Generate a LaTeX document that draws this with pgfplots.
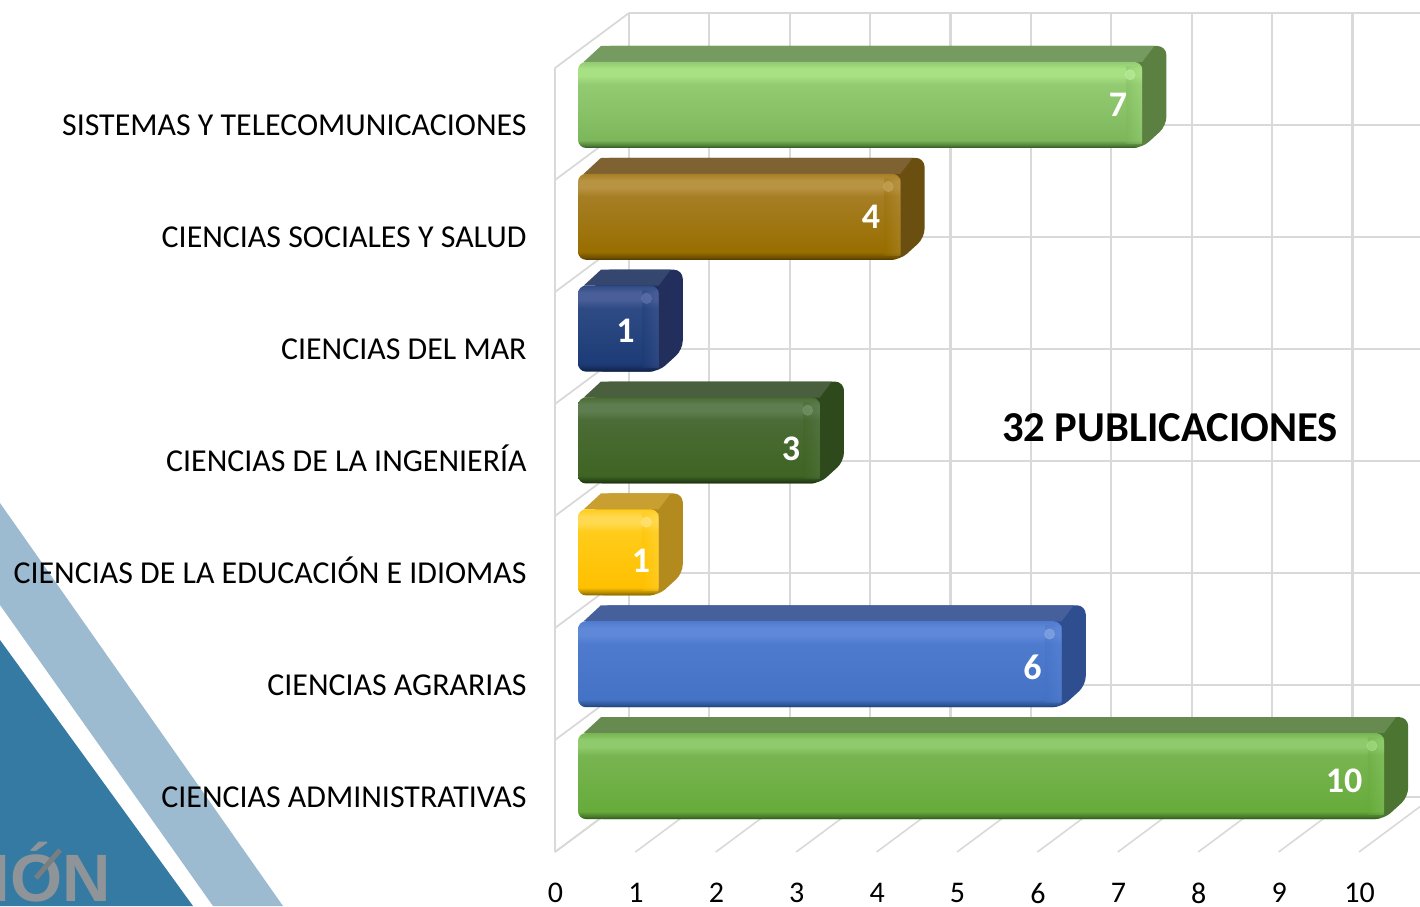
\documentclass[border=0pt]{standalone}
\usepackage{fontspec}
\setmainfont{Carlito}
\usepackage{pgfplots}
\pgfplotsset{compat=1.18}
\newfontfamily\logofont{Liberation Sans}
\definecolor{gridc}{HTML}{D9D9D9}
\definecolor{bandc}{HTML}{9CBAD0}
\definecolor{darkc}{HTML}{357AA3}
\definecolor{logoc}{HTML}{8E9498}
% name, band, upper body, lower body, dark, edge, top face, side, spot
\newcommand\defbar[9]{%
 \definecolor{#1band}{HTML}{#2}\definecolor{#1top}{HTML}{#3}\definecolor{#1low}{HTML}{#4}%
 \definecolor{#1dark}{HTML}{#5}\definecolor{#1edge}{HTML}{#6}\definecolor{#1tf}{HTML}{#7}%
 \definecolor{#1side}{HTML}{#8}\definecolor{#1spot}{HTML}{#9}%
 \pgfdeclareverticalshading{bar#1}{100bp}{color(0bp)=(#1edge);color(25bp)=(#1edge);color(26.5bp)=(#1dark);color(29.5bp)=(#1low);color(62bp)=(#1top);color(67bp)=(#1band);color(71bp)=(#1band);color(75bp)=(#1top);color(100bp)=(#1top)}%
}
\defbar{S}{A8E084}{93CB72}{7DB75B}{4F7F38}{2F5220}{759B60}{5C8042}{BFF0A0}
\defbar{R}{B89342}{A67E24}{986E00}{705000}{4E3800}{7E6232}{6B4F10}{C8A860}
\defbar{M}{4A5F99}{2E4B85}{1D3B76}{142B58}{0E1E40}{35466F}{222F5C}{6678B0}
\defbar{I}{5E7D50}{4B6C36}{3F6423}{274315}{18280C}{4A5F3D}{2E4A1C}{7A9A6C}
\defbar{E}{FFDA50}{FFCC1A}{FFC000}{B08600}{7F6000}{C89F30}{B38A1E}{FFE88A}
\defbar{A}{6088D8}{4F7BCF}{4472C4}{2C5596}{1F3D70}{46609C}{2F4E8F}{8FAEE8}
\defbar{D}{8FCB6C}{78B551}{67AB3B}{477A2A}{2E5218}{668A50}{4B7530}{A8E088}
% row, value, colour name
\newcommand\threedbar[3]{%
 \pgfmathsetmacro\yb{#1-0.384}\pgfmathsetmacro\yt{#1+0.384}%
 \pgfmathsetmacro\ybb{#1-0.384+0.197}\pgfmathsetmacro\ytb{#1+0.384+0.143}%
 \pgfmathsetmacro\xb{#2+0.3}\pgfmathsetmacro\xtb{#2+0.15}\pgfmathsetmacro\xs{#2-0.2}%
 \pgfmathsetmacro\xsp{#2-0.15}\pgfmathsetmacro\ysp{#1+0.27}%
 \addplot[draw=none,fill=#3side,rounded corners=4.5pt] coordinates {(0.2,\yb)(#2,\yb)(\xb,\ybb)(\xb,\ytb)(0.285,\ytb)(0.2,\yt)} -- cycle;
 \addplot[draw=none,fill=#3tf] coordinates {(0.07,\yt)(#2,\yt)(\xtb,\ytb)(0.285,\ytb)} -- cycle;
 \addplot[xbar,bar width=43pt,bar shift=0pt,draw=none,shade,shading=bar#3,rounded corners=4pt] coordinates {(#2,#1)};
 \addplot[draw=none,left color=#3low!100,right color=#3band,fill opacity=0.35] coordinates {(\xs,\yb+0.04)(#2,\yb+0.04)(#2,\yt-0.04)(\xs,\yt-0.04)} -- cycle;
 \addplot[only marks,mark=*,mark size=2.5pt,color=#3spot,opacity=0.6] coordinates {(\xsp,\ysp)};
}
\begin{document}
\begin{tikzpicture}
\useasboundingbox (0,0) rectangle (710pt,453pt);
\clip (0,0) rectangle (710pt,453pt);
% logo, in pixels of the reference halved
\fill[bandc] (0,201.5pt) -- (141.5pt,0) -- (106.5pt,0) -- (0,150.5pt) -- cycle;
\fill[darkc] (0,133pt) -- (96.5pt,0) -- (0,0) -- cycle;
\node[anchor=base east,inner sep=0pt,text=logoc,font=\logofont\bfseries\fontsize{33.5}{34}\selectfont] at (55.5pt,2.5pt) {IÓN};
\draw[logoc!85!black,line width=2.5pt] (18pt,14pt) -- (30pt,28pt);
% walls, floor and tick labels
\begin{axis}[at={(277.5pt,27pt)},anchor=south west,scale only axis,width=402pt,height=392pt,
 xmin=0,xmax=10,ymin=-0.5,ymax=6.5,clip=false,
 axis line style={draw=none},major tick length=0pt,
 xtick={0,...,10},ytick={0,...,6},
 yticklabels={CIENCIAS ADMINISTRATIVAS,CIENCIAS AGRARIAS,CIENCIAS DE LA EDUCACIÓN E IDIOMAS,CIENCIAS DE LA INGENIERÍA,CIENCIAS DEL MAR,CIENCIAS SOCIALES Y SALUD,SISTEMAS Y TELECOMUNICACIONES},
 yticklabel style={font=\fontsize{15.95}{18}\selectfont,text=black,inner sep=0pt,anchor=east,xshift=-14pt,yshift=-1pt,text height=10pt,text depth=0pt},
 /pgf/number format/assume math mode=true,
 xticklabel style={font=\fontsize{15}{18}\selectfont,text=black,inner sep=0pt,anchor=center,yshift=-20.5pt,xshift=0.3pt}]
\pgfplotsinvokeforeach{0,...,10}{\draw[gridc,line width=1.1pt] (axis cs:#1+0.92,0-0.009) -- (axis cs:#1+0.92,6.991);
 \draw[gridc,line width=0.8pt] (axis cs:#1,-0.5) -- (axis cs:#1+0.92,-0.009);}
\pgfplotsinvokeforeach{-0.5,0.5,1.5,2.5,3.5,4.5,5.5,6.5}{\draw[gridc,line width=1.1pt] (axis cs:0.92,#1+0.491) -- (axis cs:11,#1+0.491);
 \draw[gridc,line width=0.9pt] (axis cs:0,#1) -- (axis cs:0.92,#1+0.491);}
\draw[gridc,line width=1.1pt] (axis cs:0,-0.5) -- (axis cs:0,6.5);
\end{axis}
% bars
\begin{axis}[at={(289pt,37pt)},anchor=south west,scale only axis,width=403pt,height=391.5pt,
 xmin=0,xmax=10,ymin=-0.5,ymax=6.5,clip=false,hide axis]
\threedbar{6}{7}{S}
\threedbar{5}{4}{R}
\threedbar{4}{1}{M}
\threedbar{3}{3}{I}
\threedbar{2}{1}{E}
\threedbar{1}{6}{A}
\threedbar{0}{10}{D}
\begin{scope}[every node/.style={text=white,inner sep=0pt,font=\bfseries\fontsize{18}{20}\selectfont}]
\node at (axis cs:6.70,6.000) {7};
\node at (axis cs:3.635,5.000) {4};
\node at (axis cs:0.590,3.980) {1};
\node at (axis cs:2.643,2.925) {3};
\node at (axis cs:0.782,1.925) {1};
\node at (axis cs:5.640,0.975) {6};
\node at (axis cs:9.504,-0.044) {10};
\end{scope}
\end{axis}
\node[inner sep=0pt,font=\bfseries\fontsize{21.3}{24}\selectfont] at (585pt,239pt) {32 PUBLICACIONES};
\end{tikzpicture}
\end{document}
